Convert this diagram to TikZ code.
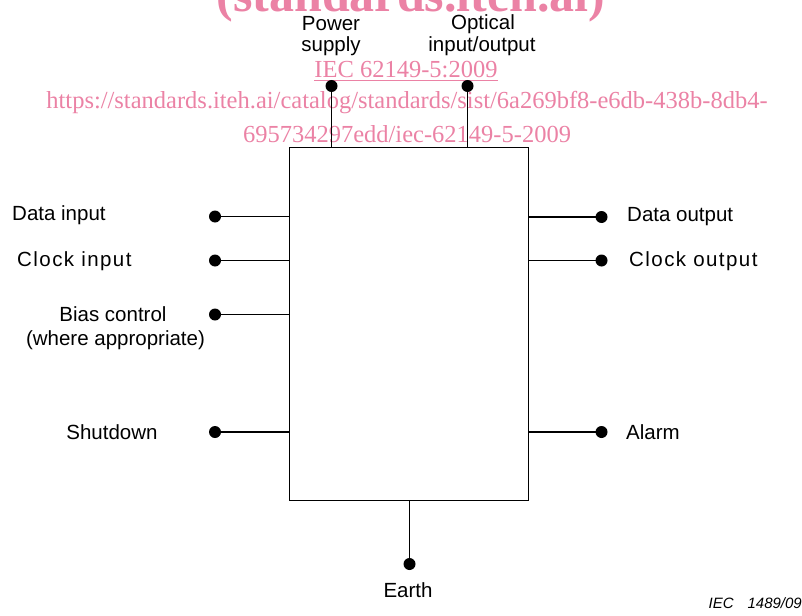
\documentclass[tikz,border=0pt]{standalone}
\usepackage{fontspec}
\setmainfont{Liberation Sans}
\newfontfamily\wmfont{Liberation Serif}
\definecolor{wmpink}{RGB}{235,130,165}
\tikzset{
  lbl/.style={inner sep=0pt, font=\fontsize{20.5}{24}\selectfont},
  pin/.style={circle, fill=black, inner sep=0pt, minimum size=12pt},
  wire/.style={line width=1.4pt},
  wm/.style={inner sep=0pt, text=wmpink, font=\wmfont\fontsize{24.5}{28}\selectfont}
}
\begin{document}
\begin{tikzpicture}[x=1pt,y=-1pt]
\useasboundingbox (0,0) rectangle (802,615);
% watermark
\node[wm, anchor=base, font=\wmfont\bfseries\fontsize{50}{55}\selectfont] (wmt) at (411,12) {(standards.iteh.ai)};
\node[wm, anchor=center] (wmi) at (406,71) {\underline{IEC 62149-5:2009}};
\node[wm, anchor=center] (wmu1) at (407,103) {https://standards.iteh.ai/catalog/standards/sist/6a269bf8-e6db-438b-8db4-};
\node[wm, anchor=center] (wmu2) at (407,134) {695734297edd/iec-62149-5-2009};
% main box
\node[draw, wire, minimum width=239pt, minimum height=353pt, inner sep=0pt, anchor=north west] (box) at (289,147) {};
% pins
\node[pin] (pdi) at (215,216.5) {};
\node[pin] (pci) at (215,260.5) {};
\node[pin] (pbc) at (215,314.5) {};
\node[pin] (psd) at (215,432) {};
\node[pin] (pdo) at (601.5,217) {};
\node[pin] (pco) at (601.5,260.5) {};
\node[pin] (pal) at (601.5,432) {};
\node[pin] (pps) at (331.5,86) {};
\node[pin] (poi) at (467.5,86) {};
\node[pin] (pea) at (409.5,564) {};
% wires
\draw[wire] (pdi.center) -- (pdi.center -| box.west);
\draw[wire] (pci.center) -- (pci.center -| box.west);
\draw[wire] (pbc.center) -- (pbc.center -| box.west);
\draw[wire] (psd.center) -- (psd.center -| box.west);
\draw[wire] (pdo.center) -- (pdo.center -| box.east);
\draw[wire] (pco.center) -- (pco.center -| box.east);
\draw[wire] (pal.center) -- (pal.center -| box.east);
\draw[wire] (pps.center) -- (pps.center |- box.north);
\draw[wire] (poi.center) -- (poi.center |- box.north);
\draw[wire] (pea.center) -- (pea.center |- box.south);
% labels
\node[lbl, anchor=west] (tdi) at (12,215) {Data input};
\node[lbl, anchor=west] (tci) at (17,261) {\addfontfeature{LetterSpace=7}Clock input};
\node[lbl, anchor=center] (tbc) at (113,314) {Bias control};
\node[lbl, anchor=center] (tbc2) at (115.5,340) {(where appropriate)};
\node[lbl, anchor=center] (tsd) at (112,432) {Shutdown};
\node[lbl, anchor=west] (tdo) at (627,217) {Data output};
\node[lbl, anchor=west] (tco) at (629,261) {\addfontfeature{LetterSpace=7}Clock output};
\node[lbl, anchor=west] (tal) at (626,432) {Alarm};
\node[lbl, anchor=center] (tea) at (408,590) {Earth};
\node[lbl, anchor=center] (tps1) at (331,24) {Power};
\node[lbl, anchor=center] (tps2) at (331,46) {supply};
\node[lbl, anchor=center] (toi1) at (483,24) {Optical};
\node[lbl, anchor=center] (toi2) at (482,46) {input/output};
\node[inner sep=0pt, anchor=east, font=\itshape\fontsize{15}{17}\selectfont] (fig) at (802,603) {IEC\hspace{14pt}1489/09};
\end{tikzpicture}
\end{document}
